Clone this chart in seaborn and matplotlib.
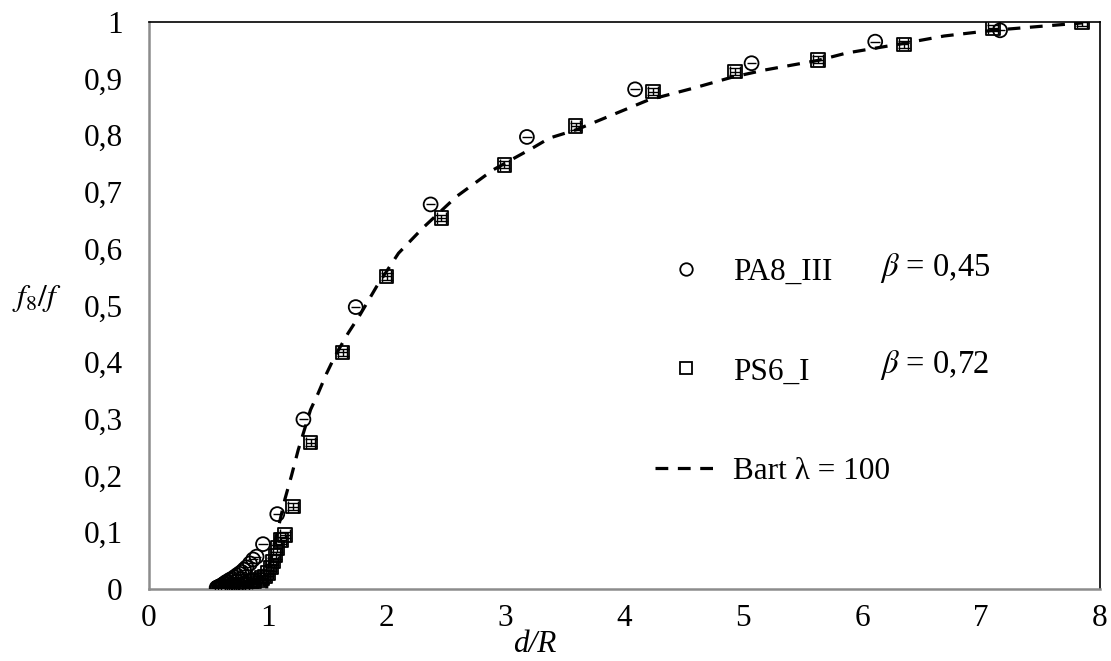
import numpy as np
import matplotlib
matplotlib.use("Agg")
import matplotlib.pyplot as plt
from matplotlib.lines import Line2D
import seaborn as sns

# Données
pa8_x = [7.16, 6.11, 5.07, 4.09, 3.18, 2.37, 1.74, 1.30, 1.08, 0.96, 0.906, 0.877,
         0.85, 0.82, 0.80, 0.78, 0.76, 0.74, 0.72, 0.70, 0.68, 0.66, 0.65, 0.64,
         0.63, 0.62, 0.61, 0.60, 0.59, 0.58, 0.57]
pa8_y = [0.985, 0.965, 0.927, 0.881, 0.797, 0.678, 0.497, 0.299, 0.132, 0.079, 0.057, 0.052,
         0.045, 0.038, 0.034, 0.030, 0.027, 0.024, 0.021, 0.018, 0.016, 0.013, 0.012, 0.010,
         0.009, 0.007, 0.006, 0.005, 0.004, 0.003, 0.002]

ps6_x = [7.85, 7.10, 6.35, 5.63, 4.93, 4.24, 3.59, 2.99, 2.46, 2.00, 1.63, 1.36, 1.214,
         1.144, 1.11, 1.082, 1.066, 1.046, 1.026, 1.004, 0.976, 0.95, 0.92, 0.89, 0.86,
         0.83, 0.80, 0.77, 0.74, 0.71, 0.68, 0.65, 0.62, 0.60]
ps6_y = [0.999, 0.989, 0.960, 0.933, 0.912, 0.877, 0.816, 0.748, 0.654, 0.551, 0.417, 0.258, 0.145,
         0.095, 0.086, 0.072, 0.059, 0.048, 0.038, 0.028, 0.022, 0.019, 0.016, 0.014, 0.012,
         0.010, 0.008, 0.007, 0.005, 0.004, 0.003, 0.002, 0.001, 0.000]

bart_x = [0.99, 1.00, 1.02, 1.05, 1.08, 1.10, 1.144, 1.20, 1.256, 1.30, 1.36, 1.424, 1.495,
          1.564, 1.676, 1.775, 1.915, 2.10, 2.307, 2.588, 2.896, 3.232, 3.37, 3.6, 4.2,
          4.58, 4.9, 5.18, 5.63, 5.87, 6.35, 6.69, 7.1, 7.5, 7.85]
bart_y = [0.0, 0.02, 0.045, 0.075, 0.10, 0.118, 0.158, 0.20, 0.245, 0.275, 0.316, 0.345, 0.38,
          0.41, 0.451, 0.483, 0.533, 0.592, 0.637, 0.692, 0.739, 0.778, 0.795, 0.81, 0.862,
          0.883, 0.902, 0.915, 0.932, 0.945, 0.962, 0.975, 0.985, 0.992, 0.998]

x_ticks = [0, 1, 2, 3, 4, 5, 6, 7, 8]
y_ticks = [0, 0.1, 0.2, 0.3, 0.4, 0.5, 0.6, 0.7, 0.8, 0.9, 1.0]
y_tick_labels = ["0", "0,1", "0,2", "0,3", "0,4", "0,5", "0,6", "0,7", "0,8", "0,9", "1"]

sns.set_style("white")
plt.rcParams['font.family'] = ['Liberation Serif', 'DejaVu Serif']
plt.rcParams['mathtext.fontset'] = 'stix'
plt.rcParams['text.color'] = 'black'
plt.rcParams['axes.labelcolor'] = 'black'
plt.rcParams['xtick.labelcolor'] = 'black'
plt.rcParams['ytick.labelcolor'] = 'black'

fig = plt.figure(figsize=(11.11, 6.61), dpi=100)
ax = fig.add_axes([0.134, 0.109, 0.856, 0.858])

gray = '#8c8c8c'
fs = 22.5

# Courbe de Bart
sns.lineplot(x=bart_x, y=bart_y, ax=ax, sort=False, color='black', lw=2.3,
             linestyle=(0, (4, 3)), zorder=2)

# Barres d'erreur (petits traits dans les marqueurs)
ax.errorbar(pa8_x, pa8_y, xerr=0.04, fmt='none', ecolor='black', elinewidth=1.0, zorder=3)
ax.errorbar(ps6_x, ps6_y, xerr=0.04, yerr=0.006, fmt='none', ecolor='black',
            elinewidth=1.0, capsize=4, capthick=1.0, zorder=3)

sns.scatterplot(x=pa8_x, y=pa8_y, ax=ax, marker='o', s=100, facecolors='none',
                edgecolor='black', linewidth=1.3, zorder=4)
sns.scatterplot(x=ps6_x, y=ps6_y, ax=ax, marker='s', s=95, facecolors='none',
                edgecolor='black', linewidth=1.3, zorder=4)

ax.set_xlim(0, 8)
ax.set_ylim(0, 1)
ax.set_xticks(x_ticks)
ax.set_xticklabels([str(t) for t in x_ticks], fontsize=fs)
ax.set_yticks(y_ticks)
ax.set_yticklabels(y_tick_labels, fontsize=fs)
ax.tick_params(axis='both', direction='out', length=7, width=1.2, color=gray,
               labelcolor='black')
ax.tick_params(axis='y', pad=12)
ax.tick_params(axis='x', pad=4)

for side in ['left', 'bottom']:
    ax.spines[side].set_color(gray)
    ax.spines[side].set_linewidth(1.8)
for side in ['top', 'right']:
    ax.spines[side].set_color('black')
    ax.spines[side].set_linewidth(1.2)
    ax.spines[side].set_visible(True)

ax.set_xlabel('d/R', fontsize=fs, fontstyle='italic', color='black')
ax.xaxis.set_label_coords(0.406, -0.072)
ax.set_ylabel(r'$f_8/f$', fontsize=fs, rotation=0, color='black')
ax.yaxis.set_label_coords(-0.118, 0.485)

# Légende
handles = [
    Line2D([], [], marker='o', linestyle='none', markerfacecolor='none',
           markeredgecolor='black', markersize=9, markeredgewidth=1.3),
    Line2D([], [], marker='s', linestyle='none', markerfacecolor='none',
           markeredgecolor='black', markersize=9, markeredgewidth=1.3),
    Line2D([], [], color='black', lw=2.3, linestyle=(0, (4, 3))),
]
labels = ['PA8_III', 'PS6_I', 'Bart λ = 100']
leg = ax.legend(handles, labels, loc='upper left', bbox_to_anchor=(0.516, 0.612),
                frameon=False, fontsize=fs, borderpad=0, handlelength=2.0,
                handletextpad=0.5, labelspacing=2.27)
for t in leg.get_texts():
    t.set_color('black')

ax.text(6.15, 0.566, r'$\beta$ = 0,45', fontsize=fs + 1, va='center', ha='left', color='black')
ax.text(6.15, 0.395, r'$\beta$ = 0,72', fontsize=fs + 1, va='center', ha='left', color='black')

fig.savefig('out.png', dpi=100)
